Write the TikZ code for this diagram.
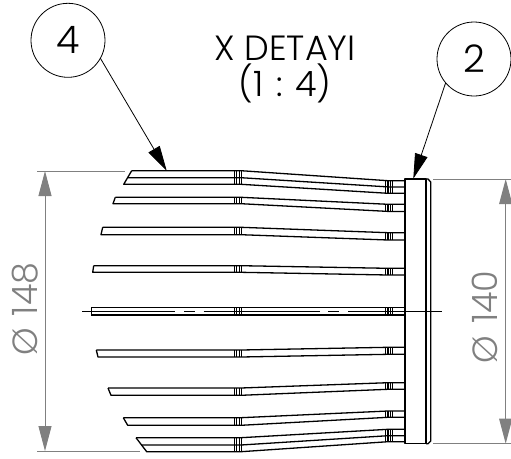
\documentclass[tikz,border=0pt]{standalone}
\usepackage{fontspec}
\setmainfont{Poppins}[UprightFont=* Light]
\usetikzlibrary{arrows.meta}
\begin{document}
\begin{tikzpicture}[x=1pt, y=-1pt,
		balloon/.style={circle, draw=black, line width=0.8pt, minimum size=74pt, inner sep=0pt, outer sep=0pt, font=\fontsize{38}{38}\selectfont},
		leader/.style={draw=black, line width=0.8pt, -{Triangle[length=25pt, width=13pt]}},
		part/.style={draw=black, line width=1.3pt, line join=round},
		thin part/.style={draw=black, line width=0.7pt},
		dimline/.style={draw=gray, line width=1pt, {Triangle[length=25pt, width=13pt]}-{Triangle[length=25pt, width=13pt]}},
		extline/.style={draw=gray, line width=0.8pt},
		dimtext/.style={text=gray, rotate=90, inner sep=0pt, font=\fontsize{35}{35}\selectfont}]
	\useasboundingbox (0,0) rectangle (511,458);

	% title and balloons
	\node[align=center, inner sep=0pt, font=\fontsize{35}{36}\selectfont] (title) at (285,70) {X DETAYI\\(1\hspace{3pt} : 4)};
	\node[balloon] (N4) at (68,40.3) {4};
	\node[balloon] (N2) at (474,59) {2};
	\coordinate (T4) at (166.7,170.7);
	\coordinate (T2) at (413.3,178.7);
	\draw[leader] (N4.-29) -- (T4);
	\draw[leader] (N2.220) -- (T2);

	% flange
	\draw[part] (405,179) rectangle (426,443.7);
	\draw[part] (426,179) -- (428,179) -- (430.7,182) -- (430.7,441) -- (428,443.7) -- (426,443.7);

	% blades
	\draw[part] (131.7,170.7) -- (241,170.7) -- (388,180.7) -- (405,180.7);
	\draw[part] (127.7,177.7) -- (241,177.7) -- (388,186.9) -- (405,186.9);
	\draw[part] (131.7,170.7) -- (123.7,184.3) -- (241,184.3) -- (388,193.3) -- (405,193.3);
	\draw[part] (115.3,197.3) -- (241,197.3) -- (388,204.3) -- (405,204.3);
	\draw[part] (115.3,197.3) -- (113,203.7) -- (241,203.7) -- (388,211.4) -- (405,211.4);
	\draw[part] (102.7,227.3) -- (241,227.3) -- (388,232.7) -- (405,232.7);
	\draw[part] (102.7,227.3) -- (101,234.7) -- (241,234.7) -- (388,240) -- (405,240);
	\draw[part] (93.7,265.7) -- (241,265.7) -- (388,268.3) -- (405,268.3);
	\draw[part] (93.7,265.7) -- (92.7,272.3) -- (241,272.3) -- (388,275) -- (405,275);
	\draw[part] (91.3,315) -- (91.3,307.5) -- (405,307.5);
	\draw[part] (91.3,315) -- (405,315);
	\draw[part] (96.3,350) -- (241,350) -- (388,347.3) -- (405,347.3);
	\draw[part] (96.3,350) -- (98,357) -- (241,357) -- (388,354.3) -- (405,354.3);
	\draw[part] (108,388) -- (241,388) -- (388,382.7) -- (405,382.7);
	\draw[part] (108,388) -- (111,395.3) -- (241,395.3) -- (388,389.3) -- (405,389.3);
	\draw[part] (123.3,417.7) -- (241,417.7) -- (388,411) -- (405,411);
	\draw[part] (123.3,417.7) -- (127.7,425.3) -- (241,425.3) -- (388,417.3) -- (405,417.3);
	\draw[part] (136,437.7) -- (241,437.7) -- (388,429.3) -- (405,429.3);
	\draw[part] (141,445) -- (241,445) -- (388,435.7) -- (405,435.7);
	\draw[part] (136,437.7) -- (146.7,451.7) -- (241,451.7) -- (388,441.7) -- (405,441.7);

	% ticks across the blades
	\foreach \x/\t/\b in {236.7/170.7/184.3, 241.5/170.7/184.3, 236.7/197.3/203.7, 241.5/197.3/203.7,
			236.7/227.3/234.7, 241.5/227.3/234.7, 236.7/265.7/272.3, 241.5/265.7/272.3,
			236.7/307.5/315, 241.5/307.5/315, 236.7/350/357, 241.5/350/357,
			236.7/388/395.3, 241.5/388/395.3, 236.7/417.7/425.3, 241.5/417.7/425.3,
			236.7/437.7/451.7, 241.5/437.7/451.7,
			388/180.7/193.3, 392.8/180.7/193.3, 388/204.3/211.4, 392.8/204.3/211.4,
			388/232.7/240, 392.8/232.7/240, 388/268.3/275, 392.8/268.3/275,
			388/307.5/315, 392.8/307.5/315, 388/347.3/354.3, 392.8/347.3/354.3,
			388/382.7/389.3, 392.8/382.7/389.3, 388/411/417.3, 392.8/411/417.3,
			388/429.3/441.7, 392.8/429.3/441.7}
		\draw[thin part, line width=1.2pt] (\x,\t) -- (\x,\b) (\x-2.4,\t) -- (\x-2.4,\b);

	% centre line
	\draw[thin part] (82,311) -- (91.3,311);
	\draw[thin part] (405,311) -- (441.7,311);
	\draw[part, line width=1pt] (91.3,311) -- (175,311) (184,311) -- (195,311) (203.5,311) -- (320,311) (328,311) -- (339,311) (348,311) -- (405,311);

	% dimensions
	\draw[extline] (37.3,171) -- (125,171);
	\draw[extline] (37.3,451) -- (140,451);
	\coordinate (A0) at (45,171);
	\coordinate (A1) at (45,451);
	\draw[dimline] (A0) -- (A1);
	\node[dimtext] (D0) at (25,309) {Ø\hspace{12pt}148};

	\draw[extline] (433,179) -- (511,179);
	\draw[extline] (433,443.7) -- (511,443.7);
	\coordinate (B0) at (505.7,179);
	\coordinate (B1) at (505.7,443.7);
	\draw[dimline] (B0) -- (B1);
	\node[dimtext] (D1) at (484.5,317) {Ø\hspace{12pt}140};
\end{tikzpicture}
\end{document}
